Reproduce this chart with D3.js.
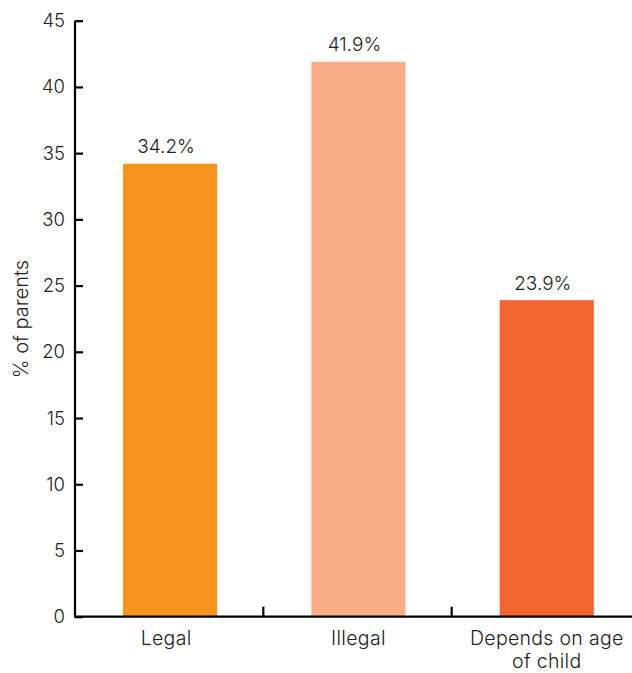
<!DOCTYPE html>
<html>
<head>
<meta charset="utf-8">
<script src="https://cdn.jsdelivr.net/npm/d3@7"></script>
<style>
  html, body { margin: 0; padding: 0; background: #fff; }
  svg text { font-family: "Inter", "Lato", sans-serif; font-weight: 300; fill: #222; }
</style>
</head>
<body>
<svg id="chart" width="632" height="673"></svg>
<script>
// Parents' views on the legality of leaving a child home alone
const categories = ["Legal", "Illegal", "Depends on age of child"];
const categoryLines = [["Legal"], ["Illegal"], ["Depends on age", "of child"]];
const values = [34.2, 41.9, 23.9];
const valueLabels = ["34.2%", "41.9%", "23.9%"];
const colors = ["#F7941D", "#F9AE88", "#F26531"];
const yTicks = [0, 5, 10, 15, 20, 25, 30, 35, 40, 45];
const yTitle = "% of parents";

const svg = d3.select("#chart");
const x0 = 75, x1 = 640, yBase = 616.7, yTop = 20.7;

const x = d3.scaleBand().domain(categories).range([x0, x1]).padding(0);
const y = d3.scaleLinear().domain([0, 45]).range([yBase, yTop]);

const barOffset = x.bandwidth() * 0.255;
const barWidth = x.bandwidth() * 0.5;

// bars
svg.append("g").selectAll("rect")
  .data(categories)
  .join("rect")
  .attr("x", d => x(d) + barOffset)
  .attr("width", barWidth)
  .attr("y", (d, i) => y(values[i]))
  .attr("height", (d, i) => y(0) - y(values[i]))
  .attr("fill", (d, i) => colors[i]);

// value labels
svg.append("g").selectAll("text")
  .data(categories)
  .join("text")
  .attr("x", d => x(d) + barOffset + barWidth / 2 - 4)
  .attr("y", (d, i) => y(values[i]) - 10.5)
  .attr("text-anchor", "middle")
  .attr("font-size", 19)
  .text((d, i) => valueLabels[i]);

// y axis: ticks pointing into the plot
const yAxis = d3.axisRight(y).tickValues(yTicks).tickSize(8).tickFormat("");
const gy = svg.append("g").attr("transform", `translate(${x0},0)`).call(yAxis);
gy.select(".domain").attr("stroke", "#000").attr("stroke-width", 2.2)
  .attr("d", `M0,${yTop}V${yBase}`);
gy.selectAll(".tick line").attr("stroke", "#000").attr("stroke-width", 2.2);

svg.append("g").selectAll("text")
  .data(yTicks)
  .join("text")
  .attr("x", 65)
  .attr("y", d => y(d) + 6.5)
  .attr("text-anchor", "end")
  .attr("font-size", 18.5)
  .text(d => d);

// x axis: ticks at band boundaries pointing up
const gx = svg.append("g");
gx.append("line")
  .attr("x1", x0 - 1).attr("x2", 632)
  .attr("y1", yBase).attr("y2", yBase)
  .attr("stroke", "#000").attr("stroke-width", 2.2);
gx.selectAll("line.tick")
  .data(categories.slice(1))
  .join("line")
  .attr("class", "tick")
  .attr("x1", d => x(d)).attr("x2", d => x(d))
  .attr("y1", yBase).attr("y2", yBase - 10)
  .attr("stroke", "#000").attr("stroke-width", 2.2);

// category labels
const catText = svg.append("g").selectAll("text")
  .data(categories)
  .join("text")
  .attr("text-anchor", "middle")
  .attr("font-size", 19.5)
  .attr("letter-spacing", 0.3);
catText.each(function(d, i) {
  const cx = x(d) + barOffset + barWidth / 2 - (i === 0 ? 4 : 0);
  d3.select(this).selectAll("tspan")
    .data(categoryLines[i])
    .join("tspan")
    .attr("x", cx)
    .attr("y", (t, j) => 645 + j * 23)
    .text(t => t);
});

// y axis title
svg.append("text")
  .attr("transform", "translate(28,319) rotate(-90)")
  .attr("text-anchor", "middle")
  .attr("font-size", 20)
  .text(yTitle);
</script>
</body>
</html>
